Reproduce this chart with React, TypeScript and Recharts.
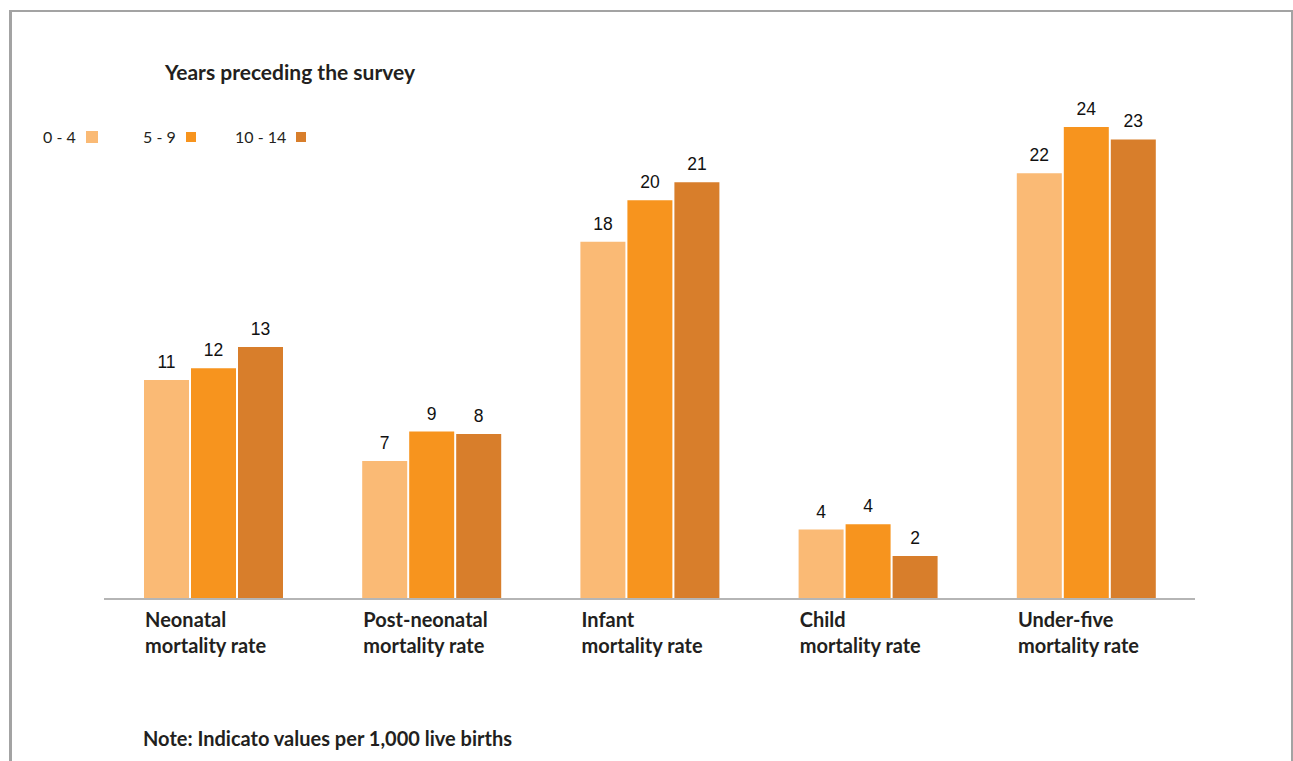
import { BarChart, Bar, XAxis, YAxis, LabelList } from 'recharts';

// categories (two-line labels) and values per 1,000 live births
const categories = [
  'Neonatal\nmortality rate',
  'Post-neonatal\nmortality rate',
  'Infant\nmortality rate',
  'Child\nmortality rate',
  'Under-five\nmortality rate',
];
const years0to4 = [11.17, 7.04, 18.23, 3.54, 21.72];
const years5to9 = [11.77, 8.54, 20.34, 3.81, 24.08];
const years10to14 = [12.86, 8.42, 21.26, 2.19, 23.45];
const seriesNames = ['0 - 4', '5 - 9', '10 - 14'];

const colors = ['#FABA75', '#F7941E', '#D87E2B'];
const legendX = [43, 143, 235];
const legendBox = [12, 10, 10];

const data = categories.map((name, i) => ({
  name,
  a: years0to4[i],
  b: years5to9[i],
  c: years10to14[i],
}));

const FONT = 'Lato, "Open Sans", sans-serif';
const TEXT = '#231F20';

function CategoryTick(props: any) {
  const { x, y, payload } = props;
  const lines = String(payload.value).split('\n');
  const left = x - 68;
  return (
    <text
      x={left}
      y={y}
      fill={TEXT}
      fontFamily={FONT}
      fontWeight={700}
      fontSize={20}
      textAnchor="start"
    >
      {lines.map((l, i) => (
        <tspan key={i} x={left} dy={i === 0 ? 28 : 26}>
          {l}
        </tspan>
      ))}
    </text>
  );
}

export default function App() {
  const keys = ['a', 'b', 'c'];
  return (
    <div
      style={{
        position: 'absolute',
        left: 0,
        top: 0,
        width: 1293,
        height: 761,
        overflow: 'hidden',
        background: '#fff',
        fontFamily: FONT,
      }}
    >
      {/* frame */}
      <div
        style={{
          position: 'absolute',
          left: 9,
          top: 10,
          width: 1279,
          height: 800,
          borderTop: '2px solid #a3a3a3',
          borderLeft: '3px solid #a3a3a3',
          borderRight: '2px solid #a3a3a3',
        }}
      />
      <div
        style={{
          position: 'absolute',
          left: 165,
          top: 59,
          fontSize: 21,
          fontWeight: 700,
          color: TEXT,
          whiteSpace: 'nowrap',
        }}
      >
        Years preceding the survey
      </div>
      {seriesNames.map((s, i) => (
        <div
          key={s}
          style={{
            position: 'absolute',
            left: legendX[i],
            top: 127,
            fontSize: 16,
            color: TEXT,
            display: 'flex',
            alignItems: 'center',
            whiteSpace: 'nowrap',
          }}
        >
          <span>{s}</span>
          <span
            style={{
              display: 'inline-block',
              width: legendBox[i],
              height: legendBox[i],
              marginLeft: 10,
              background: colors[i],
            }}
          />
        </div>
      ))}
      <div style={{ position: 'absolute', left: 0, top: 0 }}>
        <BarChart
          width={1293}
          height={761}
          data={data}
          margin={{ top: 109, right: 98, left: 104, bottom: 102 }}
          barSize={45}
          barGap={2}
        >
          <XAxis
            dataKey="name"
            height={60}
            axisLine={{ stroke: '#b5b5b5', strokeWidth: 2 }}
            tickLine={false}
            tickSize={0}
            tickMargin={0}
            interval={0}
            tick={<CategoryTick />}
          />
          <YAxis hide domain={[0, 25]} />
          {keys.map((k, i) => (
            <Bar key={k} dataKey={k} fill={colors[i]} isAnimationActive={false}>
              <LabelList
                dataKey={k}
                position="top"
                offset={12}
                formatter={(v: any) => Math.round(Number(v))}
                fill="#111"
                fontSize={17.5}
                fontFamily='"Liberation Sans", Arial, sans-serif'
              />
            </Bar>
          ))}
        </BarChart>
      </div>
      <div
        style={{
          position: 'absolute',
          left: 143,
          top: 726,
          fontSize: 20,
          fontWeight: 700,
          color: TEXT,
          whiteSpace: 'nowrap',
        }}
      >
        Note: Indicato values per 1,000 live births
      </div>
    </div>
  );
}
